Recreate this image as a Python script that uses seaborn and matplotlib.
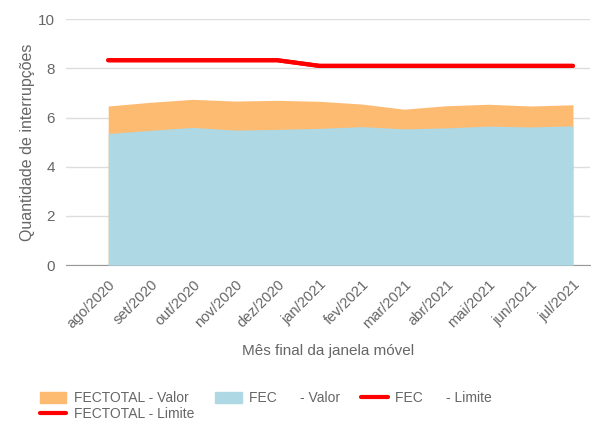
import numpy as np
import pandas as pd
import matplotlib
matplotlib.use("Agg")
import matplotlib.pyplot as plt
import seaborn as sns
from matplotlib.patches import Patch
from matplotlib.lines import Line2D

meses = ["ago/2020", "set/2020", "out/2020", "nov/2020", "dez/2020", "jan/2021",
         "fev/2021", "mar/2021", "abr/2021", "mai/2021", "jun/2021", "jul/2021"]
fectotal_valor = [6.47, 6.62, 6.74, 6.67, 6.70, 6.66, 6.55, 6.34, 6.48, 6.54, 6.47, 6.52]
fec_valor = [5.35, 5.48, 5.60, 5.49, 5.52, 5.56, 5.63, 5.54, 5.58, 5.65, 5.62, 5.66]
fec_limite = [8.33, 8.33, 8.33, 8.33, 8.33, 8.10, 8.10, 8.10, 8.10, 8.10, 8.10, 8.10]
fectotal_limite = [8.33, 8.33, 8.33, 8.33, 8.33, 8.10, 8.10, 8.10, 8.10, 8.10, 8.10, 8.10]

df = pd.DataFrame({"mes": meses, "x": range(len(meses)),
                   "fectotal": fectotal_valor, "fec": fec_valor,
                   "fec_lim": fec_limite, "fectotal_lim": fectotal_limite})

sns.set_style("white")
plt.rcParams["font.family"] = ["Liberation Sans", "DejaVu Sans"]

cinza = "#666666"
laranja = "#FDBB72"
azul = "#ADD8E4"
vermelho = "#FF0000"

fig = plt.figure(figsize=(5.94, 4.25), dpi=100)
ax = fig.add_axes([0.111, 0.376, 0.882, 0.579])

ax.fill_between(df["x"], 0, df["fectotal"], color=laranja, lw=0, zorder=2)
ax.fill_between(df["x"], 0, df["fec"], color=azul, lw=0, zorder=3)
sns.lineplot(data=df, x="x", y="fectotal_lim", color=vermelho, lw=3, ax=ax, zorder=4)
sns.lineplot(data=df, x="x", y="fec_lim", color=vermelho, lw=3, ax=ax, zorder=5)

ax.set_xlim(-1, 11.4)
ax.set_ylim(0, 10)
ax.set_yticks([0, 2, 4, 6, 8, 10])
ax.yaxis.grid(True, color="#dddddd", lw=1, zorder=0)
ax.set_axisbelow(True)
ax.set_xticks(df["x"])
ax.set_xticklabels(meses, rotation=45, ha="right", rotation_mode="anchor")
ax.tick_params(axis="x", colors=cinza, labelsize=10.5, length=5, width=1, direction="out", pad=4)
ax.tick_params(axis="y", colors=cinza, labelsize=11, length=0, pad=8)
for s in ["top", "right", "left"]:
    ax.spines[s].set_visible(False)
ax.spines["bottom"].set_color("#999999")
ax.tick_params(axis="x", color="#999999")

ax.set_xlabel("Mês final da janela móvel", color=cinza, fontsize=11, labelpad=9)
ax.set_ylabel("Quantidade de interrupções", color=cinza, fontsize=11.5, labelpad=2)

handles = [Patch(color=laranja), Line2D([], [], color=vermelho, lw=3),
           Patch(color=azul), Line2D([], [], color=vermelho, lw=3)]
labels = ["FECTOTAL - Valor", "FECTOTAL - Limite", "FEC      - Valor", "FEC      - Limite"]
fig.legend(handles, labels, ncol=3, loc="lower left", bbox_to_anchor=(0.065, 0.005),
           frameon=False, fontsize=10, labelcolor=cinza, handlelength=1.9,
           handleheight=0.9, columnspacing=1.5, labelspacing=0.15, handletextpad=0.55,
           borderpad=0.1, borderaxespad=0)

fig.savefig("out.png", dpi=100)
